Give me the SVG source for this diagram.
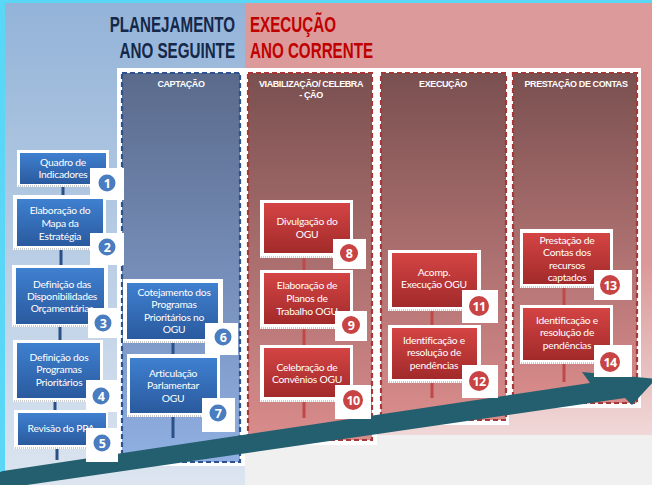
<svg xmlns="http://www.w3.org/2000/svg" width="652" height="485" viewBox="0 0 652 485">
<defs>
<linearGradient id="lp" x1="0" y1="0" x2="0" y2="1"><stop offset="0" stop-color="#93b3d8"/><stop offset="1" stop-color="#dce5f0"/></linearGradient>
<linearGradient id="rp" x1="0" y1="0" x2="0" y2="1"><stop offset="0" stop-color="#dc9a9a"/><stop offset="0.6" stop-color="#dc9898"/><stop offset="1" stop-color="#f0d8d8"/></linearGradient>
<linearGradient id="colB" x1="0" y1="0" x2="0" y2="1"><stop offset="0" stop-color="#5a6a8b"/><stop offset="1" stop-color="#90b0e3"/></linearGradient>
<linearGradient id="colR" x1="0" y1="0" x2="0" y2="1"><stop offset="0" stop-color="#7a5050"/><stop offset="1" stop-color="#da8c8c"/></linearGradient>
<linearGradient id="boxB" x1="0" y1="0" x2="0" y2="1"><stop offset="0" stop-color="#3f80d0"/><stop offset="1" stop-color="#2a5a9e"/></linearGradient>
<linearGradient id="boxR" x1="0" y1="0" x2="0" y2="1"><stop offset="0" stop-color="#d44444"/><stop offset="1" stop-color="#a22a2a"/></linearGradient>
</defs>
<style>
.title{font-family:"Liberation Sans",Arial,sans-serif;font-weight:bold;font-size:22px}
.tb{fill:#14284a;text-anchor:end}
.tr{fill:#c00000;text-anchor:start}
.colhd{font-family:"Liberation Sans",Arial,sans-serif;font-weight:bold;font-size:9px;fill:#ffffff;text-anchor:middle;letter-spacing:-0.4px}
.colb{stroke:#2c5090;stroke-width:2.2;stroke-dasharray:5 3;fill:url(#colB)}
.colr{stroke:#a83838;stroke-width:2.2;stroke-dasharray:5 3;fill:url(#colR)}
.wb{fill:#ffffff}
.dots{stroke:#9a9a9a;stroke-width:1;stroke-dasharray:1 1;fill:none}
.bb{fill:url(#boxB)}
.br{fill:url(#boxR)}
.lbl{font-family:Lato,"Open Sans",sans-serif;font-size:10.3px;fill:#ffffff;text-anchor:middle;letter-spacing:-0.25px}
.cb{fill:#4a7cc0}
.cr{fill:#c84444}
.num{font-family:"Open Sans","Noto Sans",sans-serif;font-weight:bold;font-size:12.5px;fill:#ffffff;text-anchor:middle;letter-spacing:-0.6px}
.conB{stroke:#2a5088;stroke-width:3;fill:none}
.conR{stroke:#c04848;stroke-width:3;fill:none}
</style>
<!-- background -->
<rect x="0" y="0" width="652" height="485" fill="#f0f0f0"/>
<rect x="0" y="0" width="652" height="3" fill="#5ad7f7"/>
<rect x="0" y="0" width="5" height="485" fill="#5ad7f7"/>
<rect x="5" y="3" width="240" height="482" fill="url(#lp)"/>
<rect x="245" y="3" width="407" height="432" fill="url(#rp)"/>
<g transform="scale(0.69,1)">
<text class="title tb" x="340.6" y="32.5">PLANEJAMENTO</text>
<text class="title tb" x="340.6" y="58.5">ANO SEGUINTE</text>
<text class="title tr" x="362.3" y="32.5">EXECUÇÃO</text>
<text class="title tr" x="362.3" y="58.5">ANO CORRENTE</text>
</g>
<!-- columns -->
<polygon class="wb" points="117,68 641,68 641,408 509,408 509,425 377,425 377,445 245,445 245,466 117,466"/>
<g id="col-captacao">
<rect class="colb" x="122" y="73" width="118" height="389"/>
<text class="colhd" x="181" y="87">CAPTAÇÃO</text>
</g>
<g id="col-viabilizacao">
<rect class="colr" x="248" y="73" width="124" height="367"/>
<text class="colhd" x="311" y="87">VIABILIZAÇÃO/ CELEBRA</text>
<text class="colhd" x="311" y="98">- ÇÃO</text>
</g>
<g id="col-execucao">
<rect class="colr" x="381" y="73" width="125" height="347"/>
<text class="colhd" x="443" y="87">EXECUÇÃO</text>
</g>
<g id="col-prestacao">
<rect class="colr" x="513" y="73" width="124" height="330"/>
<text class="colhd" x="576" y="87">PRESTAÇÃO DE CONTAS</text>
</g>
<!-- timeline arrow -->
<polygon id="timeline" fill="#235f6e" points="3,471 590,383 582,372 656,379 632,405 625,398 20,486 0,486 0,472"/>
<!-- connectors -->
<g id="connectors">
<line class="conB" x1="63" y1="187" x2="63" y2="195"/>
<line class="conB" x1="61" y1="250" x2="61" y2="265"/>
<line class="conB" x1="60" y1="327" x2="60" y2="340"/>
<line class="conB" x1="55" y1="402" x2="55" y2="410"/>
<line class="conB" x1="57" y1="448" x2="57" y2="460"/>
<line class="conB" x1="173" y1="343" x2="173" y2="354"/>
<line class="conB" x1="173" y1="417" x2="173" y2="438"/>
<line class="conR" x1="304" y1="258" x2="304" y2="270"/>
<line class="conR" x1="304" y1="329" x2="304" y2="345"/>
<line class="conR" x1="304" y1="402" x2="304" y2="418"/>
<line class="conR" x1="432" y1="311" x2="432" y2="325"/>
<line class="conR" x1="432" y1="383" x2="432" y2="398"/>
<line class="conR" x1="564" y1="288" x2="564" y2="305"/>
<line class="conR" x1="564" y1="364" x2="564" y2="382"/>
</g>
<!-- nodes -->
<g id="n1">
<rect class="wb" x="17" y="150" width="92" height="37"/><line class="dots" x1="18" y1="186" x2="108" y2="186"/>
<rect class="bb" x="20" y="153" width="86" height="31"/>
<text class="lbl" x="63" y="165.5">Quadro de</text><text class="lbl" x="63" y="178">Indicadores</text>
<rect class="wb" x="90" y="168" width="34" height="32"/><circle class="cb" cx="107" cy="183" r="8.5"/><text class="num" x="107" y="187.5">1</text>
</g>
<g id="n2">
<rect class="wb" x="13" y="195" width="93" height="55"/><line class="dots" x1="14" y1="249" x2="105" y2="249"/>
<rect class="bb" x="17" y="199" width="86" height="47"/>
<text class="lbl" x="60" y="213.5">Elaboração do</text><text class="lbl" x="60" y="226.5">Mapa da</text><text class="lbl" x="60" y="239.5">Estratégia</text>
<rect class="wb" x="90" y="233" width="34" height="32"/><circle class="cb" cx="107" cy="247" r="8.5"/><text class="num" x="107" y="251.5">2</text>
</g>
<g id="n3">
<rect class="wb" x="12" y="265" width="96" height="62"/><line class="dots" x1="13" y1="326" x2="107" y2="326"/>
<rect class="bb" x="16" y="268" width="88" height="56"/>
<text class="lbl" x="62" y="287.5">Definição das</text><text class="lbl" x="62" y="299.5">Disponibilidades</text><text class="lbl" x="62" y="311.5">Orçamentárias</text>
<rect class="wb" x="88" y="308" width="32" height="30"/><circle class="cb" cx="103" cy="323" r="8.5"/><text class="num" x="103" y="327.5">3</text>
</g>
<g id="n4">
<rect class="wb" x="13" y="340" width="90" height="62"/><line class="dots" x1="14" y1="401" x2="102" y2="401"/>
<rect class="bb" x="17" y="343" width="83" height="55"/>
<text class="lbl" x="59" y="360.5">Definição dos</text><text class="lbl" x="59" y="373">Programas</text><text class="lbl" x="59" y="385.5">Prioritários</text>
<rect class="wb" x="86" y="380" width="32" height="32"/><circle class="cb" cx="101" cy="396" r="8.5"/><text class="num" x="101" y="400.5">4</text>
</g>
<g id="n5">
<rect class="wb" x="14" y="410" width="94" height="39"/><line class="dots" x1="15" y1="448" x2="107" y2="448"/>
<rect class="bb" x="18" y="413" width="88" height="32"/>
<text class="lbl" x="61" y="431.5">Revisão do PPA</text>
<rect class="wb" x="86" y="428" width="32" height="34"/><circle class="cb" cx="102" cy="443" r="8.5"/><text class="num" x="102" y="447.5">5</text>
</g>
<g id="n6">
<rect class="wb" x="123" y="279" width="100" height="64"/><line class="dots" x1="124" y1="342" x2="222" y2="342"/>
<rect class="bb" x="127" y="283" width="91" height="56"/>
<text class="lbl" x="174" y="295.5">Cotejamento dos</text><text class="lbl" x="174" y="308">Programas</text><text class="lbl" x="174" y="320.5">Prioritários no</text><text class="lbl" x="174" y="333">OGU</text>
<rect class="wb" x="205" y="323" width="33" height="32"/><circle class="cb" cx="223" cy="337" r="8.5"/><text class="num" x="223" y="341.5">6</text>
</g>
<g id="n7">
<rect class="wb" x="127" y="354" width="93" height="63"/><line class="dots" x1="128" y1="416" x2="219" y2="416"/>
<rect class="bb" x="130" y="358" width="87" height="55"/>
<text class="lbl" x="173" y="376.5">Articulação</text><text class="lbl" x="173" y="389">Parlamentar</text><text class="lbl" x="173" y="401.5">OGU</text>
<rect class="wb" x="202" y="398" width="33" height="34"/><circle class="cb" cx="218" cy="413" r="8.5"/><text class="num" x="218" y="417.5">7</text>
</g>
<g id="n8">
<rect class="wb" x="260" y="200" width="93" height="58"/><line class="dots" x1="261" y1="257" x2="352" y2="257"/>
<rect class="br" x="264" y="203" width="86" height="50"/>
<text class="lbl" x="307" y="224.5">Divulgação do</text><text class="lbl" x="307" y="237.5">OGU</text>
<rect class="wb" x="333" y="239" width="33" height="30"/><circle class="cr" cx="349" cy="253" r="9"/><text class="num" x="349" y="257.5">8</text>
</g>
<g id="n9">
<rect class="wb" x="260" y="270" width="93" height="59"/><line class="dots" x1="261" y1="328" x2="352" y2="328"/>
<rect class="br" x="264" y="273" width="86" height="51"/>
<text class="lbl" x="307" y="288.5">Elaboração de</text><text class="lbl" x="307" y="301.5">Planos de</text><text class="lbl" x="307" y="314.5">Trabalho OGU</text>
<rect class="wb" x="335" y="311" width="32" height="30"/><circle class="cr" cx="351" cy="325" r="9"/><text class="num" x="351" y="329.5">9</text>
</g>
<g id="n10">
<rect class="wb" x="260" y="345" width="93" height="57"/><line class="dots" x1="261" y1="401" x2="352" y2="401"/>
<rect class="br" x="264" y="348" width="86" height="49"/>
<text class="lbl" x="307" y="370.5">Celebração de</text><text class="lbl" x="307" y="383">Convênios OGU</text>
<rect class="wb" x="335" y="385" width="36" height="34"/><circle class="cr" cx="353" cy="400" r="10"/><text class="num" x="353" y="404.5">10</text>
</g>
<g id="n11">
<rect class="wb" x="388" y="250" width="93" height="61"/><line class="dots" x1="389" y1="310" x2="480" y2="310"/>
<rect class="br" x="392" y="253" width="85" height="54"/>
<text class="lbl" x="434" y="275.5">Acomp.</text><text class="lbl" x="434" y="288">Execução OGU</text>
<rect class="wb" x="462" y="290" width="36" height="33"/><circle class="cr" cx="479" cy="306" r="10"/><text class="num" x="479" y="310.5">11</text>
</g>
<g id="n12">
<rect class="wb" x="388" y="325" width="93" height="58"/><line class="dots" x1="389" y1="382" x2="480" y2="382"/>
<rect class="br" x="392" y="328" width="85" height="51"/>
<text class="lbl" x="434" y="343.5">Identificação e</text><text class="lbl" x="434" y="356">resolução de</text><text class="lbl" x="434" y="368.5">pendências</text>
<rect class="wb" x="462" y="365" width="36" height="33"/><circle class="cr" cx="479" cy="381" r="10"/><text class="num" x="479" y="385.5">12</text>
</g>
<g id="n13">
<rect class="wb" x="520" y="229" width="93" height="59"/><line class="dots" x1="521" y1="287" x2="612" y2="287"/>
<rect class="br" x="523" y="233" width="87" height="51"/>
<text class="lbl" x="567" y="243.5">Prestação de</text><text class="lbl" x="567" y="256">Contas dos</text><text class="lbl" x="567" y="268.5">recursos</text><text class="lbl" x="567" y="281">captados</text>
<rect class="wb" x="594" y="270" width="38" height="30"/><circle class="cr" cx="610" cy="285" r="10"/><text class="num" x="610" y="289.5">13</text>
</g>
<g id="n14">
<rect class="wb" x="520" y="305" width="93" height="59"/><line class="dots" x1="521" y1="363" x2="612" y2="363"/>
<rect class="br" x="523" y="308" width="87" height="52"/>
<text class="lbl" x="567" y="323.5">Identificação e</text><text class="lbl" x="567" y="336">resolução de</text><text class="lbl" x="567" y="348.5">pendências</text>
<rect class="wb" x="594" y="345" width="38" height="32"/><circle class="cr" cx="610" cy="362" r="10"/><text class="num" x="610" y="366.5">14</text>
</g>
</svg>
